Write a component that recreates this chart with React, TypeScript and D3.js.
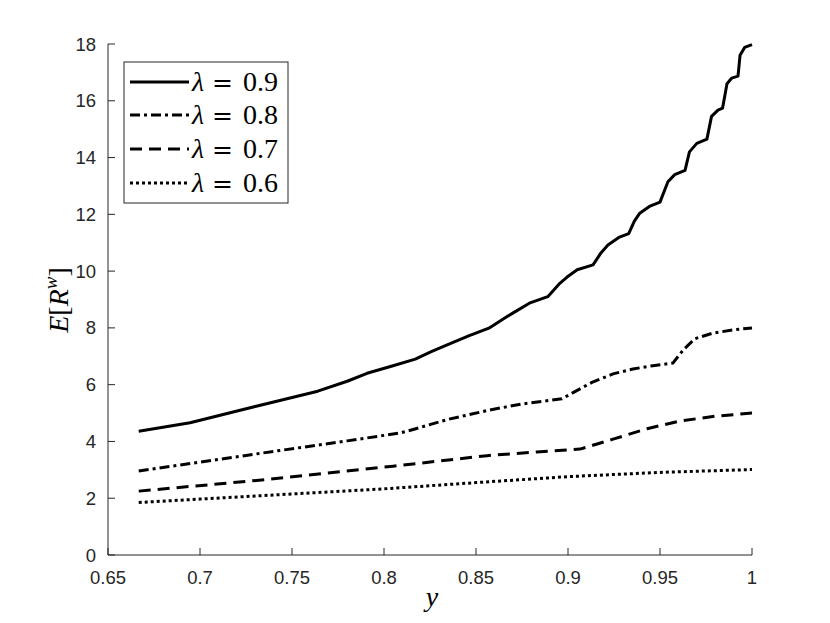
import React from "react";
import * as d3 from "d3";

const W = 830;
const H = 623;

const xTicks = [0.65, 0.7, 0.75, 0.8, 0.85, 0.9, 0.95, 1];
const xTickLabels = ["0.65", "0.7", "0.75", "0.8", "0.85", "0.9", "0.95", "1"];
const yTicks = [0, 2, 4, 6, 8, 10, 12, 14, 16, 18];
const yTickLabels = ["0", "2", "4", "6", "8", "10", "12", "14", "16", "18"];

const x09 = [0.6667, 0.6946, 0.73, 0.764, 0.78, 0.7908, 0.804, 0.817, 0.826, 0.834, 0.846, 0.857, 0.865, 0.87, 0.879, 0.889, 0.8957, 0.8995, 0.905, 0.9136, 0.918, 0.9217, 0.928, 0.933, 0.936, 0.939, 0.9446, 0.95, 0.9543, 0.958, 0.9636, 0.966, 0.97, 0.9755, 0.978, 0.9815, 0.984, 0.9864, 0.989, 0.9924, 0.9935, 0.996, 1.0];
const y09 = [4.36, 4.66, 5.23, 5.77, 6.12, 6.4, 6.65, 6.9, 7.17, 7.39, 7.72, 7.99, 8.32, 8.52, 8.87, 9.1, 9.58, 9.79, 10.05, 10.22, 10.65, 10.92, 11.2, 11.32, 11.75, 12.04, 12.29, 12.43, 13.15, 13.4, 13.55, 14.2, 14.5, 14.65, 15.45, 15.67, 15.74, 16.6, 16.8, 16.87, 17.6, 17.88, 17.98];

const x08 = [0.6667, 0.7, 0.74, 0.78, 0.809, 0.8168, 0.835, 0.8576, 0.875, 0.8967, 0.905, 0.913, 0.9245, 0.9353, 0.945, 0.957, 0.963, 0.969, 0.979, 0.99, 1.0];
const y08 = [2.96, 3.27, 3.65, 4.02, 4.3, 4.44, 4.78, 5.11, 5.32, 5.5, 5.8, 6.08, 6.38, 6.55, 6.66, 6.76, 7.25, 7.62, 7.82, 7.93, 8.0];

const x07 = [0.6667, 0.7364, 0.805, 0.83, 0.856, 0.883, 0.9, 0.9065, 0.9245, 0.943, 0.961, 0.98, 1.0];
const y07 = [2.25, 2.66, 3.13, 3.31, 3.5, 3.63, 3.7, 3.73, 4.08, 4.45, 4.72, 4.89, 5.0];

const x06 = [0.6667, 0.7, 0.75, 0.8, 0.85, 0.9, 0.95, 1.0];
const y06 = [1.85, 1.97, 2.15, 2.33, 2.55, 2.76, 2.91, 3.01];

const labels = ["0.9", "0.8", "0.7", "0.6"];
const dashes = ["none", "10,4,3,4", "12,7", "3,3"];

export default function App() {
  const x = d3.scaleLinear().domain([0.65, 1]).range([108, 752]);
  const y = d3.scaleLinear().domain([0, 18]).range([555, 44]);
  const line = d3
    .line<[number, number]>()
    .x((d) => x(d[0]))
    .y((d) => y(d[1]))
    .curve(d3.curveLinear);
  const series = [
    d3.zip(x09, y09) as [number, number][],
    d3.zip(x08, y08) as [number, number][],
    d3.zip(x07, y07) as [number, number][],
    d3.zip(x06, y06) as [number, number][],
  ];
  const axisColor = "#262626";
  const tickFont = "'Liberation Sans', Arial, sans-serif";
  const mathFont = "'Liberation Serif', 'DejaVu Serif', serif";
  const legX = 124, legY = 62, legW = 164, legH = 141;
  const rowY = [82, 115, 149, 183];

  return (
    <svg width={W} height={H} style={{ position: "absolute", left: 0, top: 0, background: "#fff" }}>
      <rect x={0} y={0} width={W} height={H} fill="#fff" />
      {/* axes */}
      <line x1={x(0.65)} x2={x(1)} y1={y(0)} y2={y(0)} stroke={axisColor} strokeWidth={1} />
      <line x1={x(0.65)} x2={x(0.65)} y1={y(0)} y2={y(18)} stroke={axisColor} strokeWidth={1} />
      {xTicks.map((t, i) => (
        <g key={"xt" + i}>
          <line x1={x(t)} x2={x(t)} y1={y(0)} y2={y(0) - 7} stroke={axisColor} />
          <text x={x(t)} y={584} textAnchor="middle" fontFamily={tickFont} fontSize={18.5} fill={axisColor}>
            {xTickLabels[i]}
          </text>
        </g>
      ))}
      {yTicks.map((t, i) => (
        <g key={"yt" + i}>
          <line x1={x(0.65)} x2={x(0.65) + 7} y1={y(t)} y2={y(t)} stroke={axisColor} />
          <text x={96} y={y(t) + 6.5} textAnchor="end" fontFamily={tickFont} fontSize={18.5} fill={axisColor}>
            {yTickLabels[i]}
          </text>
        </g>
      ))}
      {/* series */}
      {series.map((s, i) => (
        <path key={"s" + i} d={line(s) || ""} fill="none" stroke="#000" strokeWidth={3}
          strokeDasharray={dashes[i]} strokeLinejoin="round" />
      ))}
      {/* axis labels */}
      <text x={432} y={606} textAnchor="middle" fontFamily={mathFont} fontStyle="italic" fontSize={28}>y</text>
      <text transform="translate(68,300) rotate(-90)" textAnchor="middle" fontFamily={mathFont} fontSize={28}>
        <tspan fontStyle="italic">E</tspan>
        <tspan>[</tspan>
        <tspan fontStyle="italic">R</tspan>
        <tspan fontStyle="italic" fontSize={19} dy={-11}>w</tspan>
        <tspan dy={11}>]</tspan>
      </text>
      {/* legend */}
      <rect x={legX} y={legY} width={legW} height={legH} fill="#fff" stroke={axisColor} strokeWidth={1} />
      {labels.map((l, i) => (
        <g key={"lg" + i}>
          <line x1={130} x2={189} y1={rowY[i]} y2={rowY[i]} stroke="#000" strokeWidth={3} strokeDasharray={dashes[i]} />
          <text y={rowY[i] + 9} fontFamily={mathFont} fontSize={28}>
            <tspan x={192} fontStyle="italic">λ</tspan>
            <tspan x={212} fontFamily="'DejaVu Serif', serif" fontSize={25}>=</tspan>
            <tspan x={243}>{l}</tspan>
          </text>
        </g>
      ))}
    </svg>
  );
}
